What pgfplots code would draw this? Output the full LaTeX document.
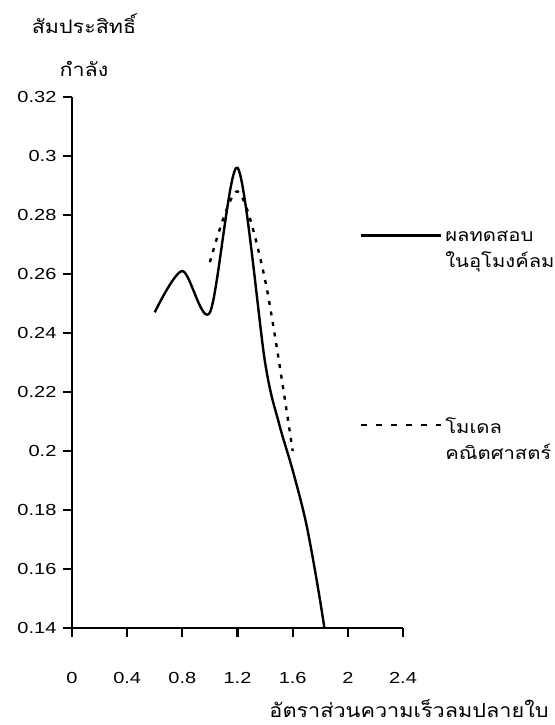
\documentclass[border=0pt]{standalone}
\usepackage{pgfplots}
\pgfplotsset{compat=1.18}
\usepackage{fontspec}
\setmainfont{Liberation Sans}[FakeStretch=1.25]
\newfontfamily\thai{Loma}[Script=Thai, FakeStretch=1.15]
\newfontfamily\thaix{Loma}[Script=Thai, FakeStretch=1.12]
\begin{document}
\begin{tikzpicture}
\begin{axis}[
  at={(0,0)}, anchor=south west,
  scale only axis,
  width=248.25pt, height=398.25pt,
  xmin=0, xmax=2.4, ymin=0.14, ymax=0.32,
  axis lines*=left,
  axis line style={-, line width=1.6pt},
  xtick={0,0.4,0.8,1.2,1.6,2,2.4},
  xticklabels={0,0.4,0.8,1.2,1.6,2,2.4},
  ytick={0.14,0.16,0.18,0.2,0.22,0.24,0.26,0.28,0.3,0.32},
  yticklabels={0.14,0.16,0.18,0.2,0.22,0.24,0.26,0.28,0.3,0.32},
  tick align=outside,
  major tick length=7pt,
  tick style={line width=1.6pt, black},
  tick label style={font=\fontsize{12}{14}\selectfont},
  xticklabel style={anchor=north, inner sep=0pt, yshift=-26pt},
  yticklabel style={anchor=east, inner sep=0pt, xshift=-4.5pt},
  clip=true,
  legend style={at={(0.870,0.753)}, anchor=north west, draw=none, fill=none,
    inner sep=0pt, row sep=107pt, font=\thai\fontsize{13.2}{19.5}\selectfont,
    cells={align=left, anchor=west}},
  legend cell align=left,
]
\addplot[black, line width=1.8pt, smooth,
  legend image code/.code={\draw[black, line width=1.8pt] (0pt,11pt) -- (60pt,11pt);}]
  coordinates {
  (0.6,0.247) (0.8,0.261) (1.0,0.247) (1.2,0.296) (1.4,0.230) (1.5,0.2095)
  (1.6,0.1935) (1.7,0.175) (1.8,0.149) (1.9,0.118)
  };
\addlegendentry{ผลทดสอบ\\ในอุโมงค์ลม}
\addplot[black, line width=1.8pt, dash pattern=on 3pt off 5pt, smooth,
  legend image code/.code={\draw[black, line width=1.8pt, dash pattern=on 4.5pt off 6.75pt] (0pt,11pt) -- (60pt,11pt);}]
  coordinates {
  (1.0,0.264) (1.2,0.288) (1.4,0.258) (1.6,0.200)
  };
\addlegendentry{โมเดล\\คณิตศาสตร์}
\end{axis}
\node[font=\thai\fontsize{14}{16}\selectfont] at (9pt,453.5pt) {สัมประสิทธิ์};
\node[font=\thai\fontsize{14}{16}\selectfont] at (9pt,419.5pt) {กำลัง};
\node[font=\thaix\fontsize{14.5}{17}\selectfont] at (252.75pt,-60.75pt) {อัตราส่วนความเร็วลมปลายใบ};
\pgfresetboundingbox
\useasboundingbox (-54pt,-72.75pt) rectangle (362.25pt,471pt);
\end{tikzpicture}
\end{document}
